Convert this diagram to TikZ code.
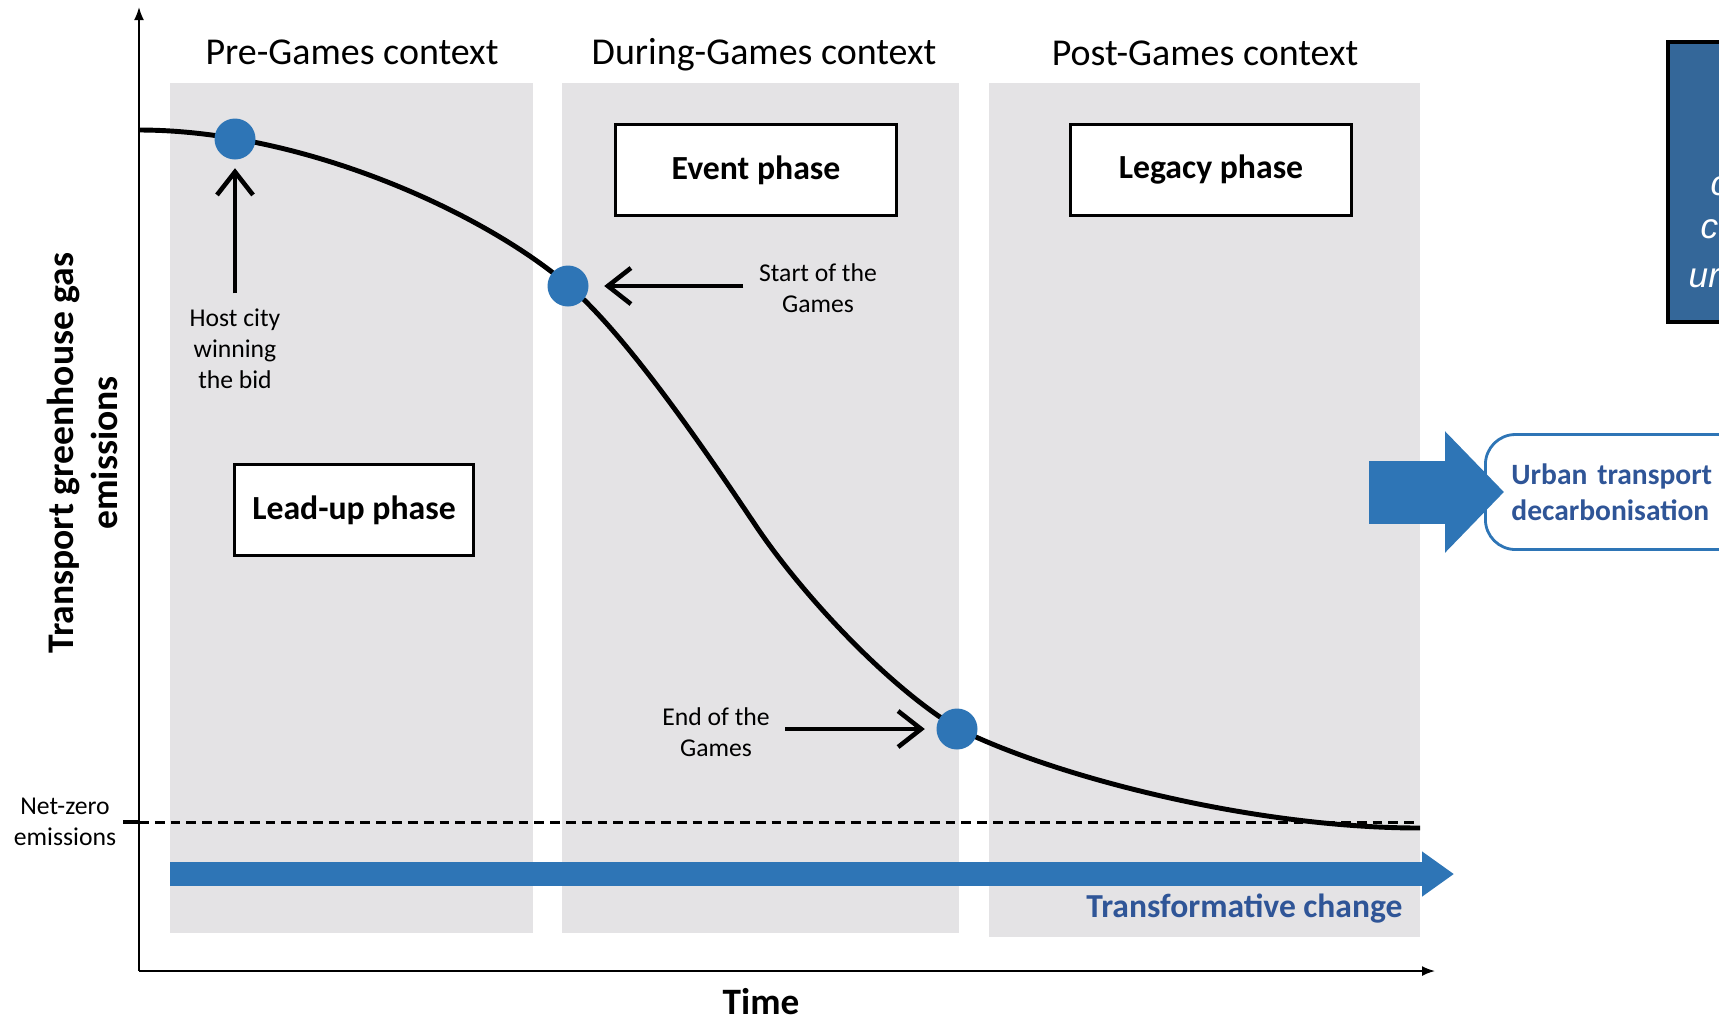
\documentclass[tikz,border=0pt]{standalone}
\usepackage{fontspec}
\setmainfont{Carlito}
\newfontfamily\arialfont{Liberation Sans}
\usetikzlibrary{arrows.meta}
\definecolor{panelgrey}{RGB}{228,227,229}
\definecolor{dotblue}{RGB}{46,117,182}
\definecolor{textblue}{RGB}{47,85,151}
\definecolor{boxblue}{RGB}{52,103,153}

\begin{document}
\begin{tikzpicture}[x=0.1mm,y=-0.1mm,
	heading/.style={anchor=base, font=\fontsize{10.8}{13}\selectfont},
	phase/.style={draw=black, line width=0.6pt, fill=white, minimum height=9.1mm, font=\fontsize{9.6}{11}\selectfont\bfseries},
	dot/.style={circle, fill=dotblue, inner sep=0pt, minimum size=4.1mm},
	note/.style={align=center, inner sep=1.5mm, font=\fontsize{7.3}{8.8}\selectfont},
	pointer/.style={-{Straight Barb[length=2.3mm,width=3.6mm]}, line width=1.3pt},
	axis/.style={-{Latex[length=1.3mm,width=1mm]}, line width=0.5pt}]
	\useasboundingbox (0,0) rectangle (1719,1020);
	\clip (0,0) rectangle (1719,1020);

	% context panels
	\fill[panelgrey] (170,83) rectangle (533,933);
	\fill[panelgrey] (562,83) rectangle (959,933);
	\fill[panelgrey] (989,83) rectangle (1420,937);
	\node[heading] (pre) at (352,64) {Pre-Games context};
	\node[heading] (during) at (764,64) {During-Games context};
	\node[heading] (post) at (1205,65) {Post-Games context};

	% axes
	\draw[axis] (139,971) -- (139,7);
	\draw[axis] (139,971) -- (1435,971);
	\node[font=\fontsize{10.6}{13}\selectfont\bfseries] (time) at (761,1002) {Time};
	\node[rotate=90, align=center, font=\fontsize{10.7}{12.5}\selectfont\bfseries] (ylbl) at (82,453) {Transport greenhouse gas\\emissions};

	% net-zero level
	\draw[dashed, dash pattern=on 2.8pt off 1.7pt, line width=0.85pt] (139,822) -- (1420,822);
	\draw[line width=1.3pt] (123,822) -- (139,822);
	\node[note, inner sep=0pt] (netzero) at (65,822) {Net-zero\\emissions};

	% emissions curve
	\draw[line width=1.4pt] (139,130) .. controls (300,130) and (480,210) .. (568,285)
		.. controls (628,336) and (711,459) .. (756,526)
		.. controls (801,593) and (887,686) .. (957,728)
		.. controls (1050,775) and (1250,828) .. (1420,828);

	% transformative change
	\draw[dotblue, line width=2.4mm, -{Triangle[length=3.2mm,width=4.3mm]}] (170,874) -- (1454,874);
	\node[anchor=east, text=textblue, font=\fontsize{9.55}{11}\selectfont\bfseries] (change) at (1415,909) {Transformative change};

	% milestones
	\node[dot] (bid) at (235,139) {};
	\node[dot] (start) at (568,286) {};
	\node[dot] (end) at (957,729) {};
	\node[note] (bidlbl) at (235,349) {Host city\\winning\\the bid};
	\node[note] (startlbl) at (818,288) {Start of the\\Games};
	\node[note] (endlbl) at (716,732) {End of the\\Games};
	\draw[pointer, shorten >=0.8mm] (bidlbl.north) -- (bid);
	\draw[pointer, shorten >=1.5mm] (startlbl.west |- start) -- (start);
	\draw[pointer, shorten >=1.1mm] (endlbl.east |- end) -- (end);

	% phases
	\node[phase, minimum width=28.1mm] (event) at (756,170) {Event phase};
	\node[phase, minimum width=28.1mm] (legacy) at (1211,170) {Legacy phase};
	\node[phase, minimum width=23.9mm] (leadup) at (354,510) {Lead-up phase};

	% outcome
	\node[draw=dotblue, line width=0.8pt, rounded corners=3mm, anchor=west, minimum height=11.5mm, inner xsep=2.6mm, text width=21mm, align=left, text=textblue, font=\fontsize{8.4}{10.3}\selectfont\bfseries] (urban) at (1484,492) {Urban transport\\decarbonisation};
	\draw[dotblue, line width=6.3mm, -{Triangle[length=5.9mm,width=11.8mm]}] (1369,492) -- ([xshift=2mm]urban.west);

	% cut-off box
	\draw[fill=boxblue, line width=1.4pt] (1668,42) rectangle (1760,322);
	\node[anchor=base west, inner sep=0pt, text=white, font=\arialfont\itshape\fontsize{10}{12}\selectfont] (boxa) at (1710,195) {c};
	\node[anchor=base west, inner sep=0pt, text=white, font=\arialfont\itshape\fontsize{10}{12}\selectfont] (boxb) at (1700,238) {c};
	\node[anchor=base west, inner sep=0pt, text=white, font=\arialfont\itshape\fontsize{10}{12}\selectfont] (boxc) at (1688,287) {ur};
\end{tikzpicture}
\end{document}
